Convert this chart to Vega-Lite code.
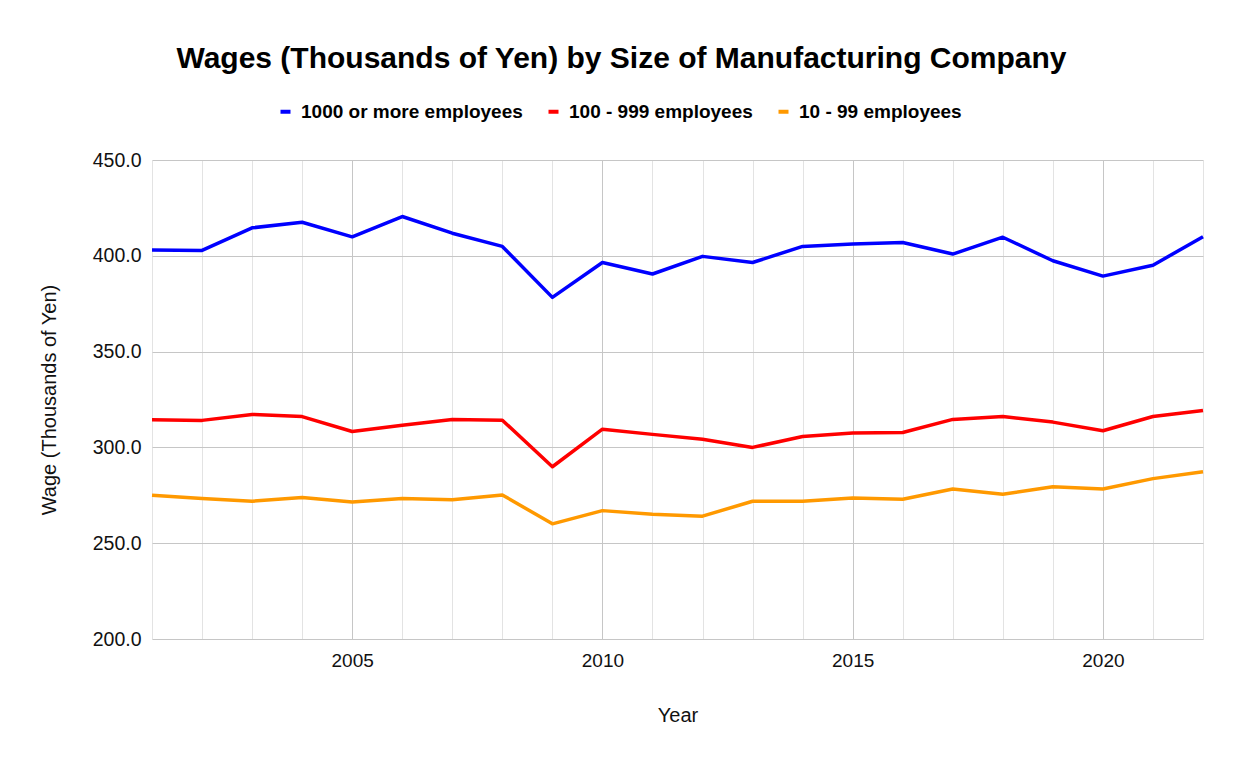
{
  "$schema": "https://vega.github.io/schema/vega-lite/v6.json",
  "autosize": {"type": "none"},
  "width": 1051,
  "height": 479,
  "padding": {"left": 152, "top": 160, "right": 39, "bottom": 126},
  "background": "white",
  "config": {"view": {"stroke": null}, "font": "Liberation Sans"},
  "title": {
    "text": "Wages (Thousands of Yen) by Size of Manufacturing Company",
    "fontSize": 30,
    "fontWeight": "bold",
    "color": "#000000",
    "anchor": "middle",
    "dx": -56,
    "offset": 28
  },
  "data": {
    "values": [
      {"year": 2001, "series": "1000 or more employees", "wage": 403.0},
      {"year": 2002, "series": "1000 or more employees", "wage": 402.8},
      {"year": 2003, "series": "1000 or more employees", "wage": 414.6},
      {"year": 2004, "series": "1000 or more employees", "wage": 417.5},
      {"year": 2005, "series": "1000 or more employees", "wage": 409.9},
      {"year": 2006, "series": "1000 or more employees", "wage": 420.5},
      {"year": 2007, "series": "1000 or more employees", "wage": 411.8},
      {"year": 2008, "series": "1000 or more employees", "wage": 404.9},
      {"year": 2009, "series": "1000 or more employees", "wage": 378.3},
      {"year": 2010, "series": "1000 or more employees", "wage": 396.5},
      {"year": 2011, "series": "1000 or more employees", "wage": 390.5},
      {"year": 2012, "series": "1000 or more employees", "wage": 399.7},
      {"year": 2013, "series": "1000 or more employees", "wage": 396.5},
      {"year": 2014, "series": "1000 or more employees", "wage": 404.9},
      {"year": 2015, "series": "1000 or more employees", "wage": 406.1},
      {"year": 2016, "series": "1000 or more employees", "wage": 406.9},
      {"year": 2017, "series": "1000 or more employees", "wage": 400.9},
      {"year": 2018, "series": "1000 or more employees", "wage": 409.7},
      {"year": 2019, "series": "1000 or more employees", "wage": 397.4},
      {"year": 2020, "series": "1000 or more employees", "wage": 389.4},
      {"year": 2021, "series": "1000 or more employees", "wage": 395.1},
      {"year": 2022, "series": "1000 or more employees", "wage": 409.9},
      {"year": 2001, "series": "100 - 999 employees", "wage": 314.4},
      {"year": 2002, "series": "100 - 999 employees", "wage": 314.1},
      {"year": 2003, "series": "100 - 999 employees", "wage": 317.2},
      {"year": 2004, "series": "100 - 999 employees", "wage": 316.1},
      {"year": 2005, "series": "100 - 999 employees", "wage": 308.3},
      {"year": 2006, "series": "100 - 999 employees", "wage": 311.6},
      {"year": 2007, "series": "100 - 999 employees", "wage": 314.6},
      {"year": 2008, "series": "100 - 999 employees", "wage": 314.2},
      {"year": 2009, "series": "100 - 999 employees", "wage": 289.9},
      {"year": 2010, "series": "100 - 999 employees", "wage": 309.5},
      {"year": 2011, "series": "100 - 999 employees", "wage": 306.8},
      {"year": 2012, "series": "100 - 999 employees", "wage": 304.3},
      {"year": 2013, "series": "100 - 999 employees", "wage": 300.0},
      {"year": 2014, "series": "100 - 999 employees", "wage": 305.7},
      {"year": 2015, "series": "100 - 999 employees", "wage": 307.5},
      {"year": 2016, "series": "100 - 999 employees", "wage": 307.8},
      {"year": 2017, "series": "100 - 999 employees", "wage": 314.6},
      {"year": 2018, "series": "100 - 999 employees", "wage": 316.1},
      {"year": 2019, "series": "100 - 999 employees", "wage": 313.2},
      {"year": 2020, "series": "100 - 999 employees", "wage": 308.7},
      {"year": 2021, "series": "100 - 999 employees", "wage": 316.1},
      {"year": 2022, "series": "100 - 999 employees", "wage": 319.3},
      {"year": 2001, "series": "10 - 99 employees", "wage": 275.0},
      {"year": 2002, "series": "10 - 99 employees", "wage": 273.3},
      {"year": 2003, "series": "10 - 99 employees", "wage": 271.9},
      {"year": 2004, "series": "10 - 99 employees", "wage": 273.8},
      {"year": 2005, "series": "10 - 99 employees", "wage": 271.5},
      {"year": 2006, "series": "10 - 99 employees", "wage": 273.3},
      {"year": 2007, "series": "10 - 99 employees", "wage": 272.7},
      {"year": 2008, "series": "10 - 99 employees", "wage": 275.2},
      {"year": 2009, "series": "10 - 99 employees", "wage": 260.1},
      {"year": 2010, "series": "10 - 99 employees", "wage": 267.0},
      {"year": 2011, "series": "10 - 99 employees", "wage": 265.1},
      {"year": 2012, "series": "10 - 99 employees", "wage": 264.1},
      {"year": 2013, "series": "10 - 99 employees", "wage": 271.9},
      {"year": 2014, "series": "10 - 99 employees", "wage": 271.9},
      {"year": 2015, "series": "10 - 99 employees", "wage": 273.6},
      {"year": 2016, "series": "10 - 99 employees", "wage": 272.9},
      {"year": 2017, "series": "10 - 99 employees", "wage": 278.3},
      {"year": 2018, "series": "10 - 99 employees", "wage": 275.5},
      {"year": 2019, "series": "10 - 99 employees", "wage": 279.5},
      {"year": 2020, "series": "10 - 99 employees", "wage": 278.3},
      {"year": 2021, "series": "10 - 99 employees", "wage": 283.7},
      {"year": 2022, "series": "10 - 99 employees", "wage": 287.3}
    ]
  },
  "mark": {"type": "line", "strokeWidth": 3.5, "strokeJoin": "round"},
  "encoding": {
    "x": {
      "field": "year",
      "type": "quantitative",
      "scale": {"domain": [2001, 2022], "nice": false, "zero": false},
      "axis": {
        "values": [2001, 2002, 2003, 2004, 2005, 2006, 2007, 2008, 2009, 2010, 2011, 2012, 2013, 2014, 2015, 2016, 2017, 2018, 2019, 2020, 2021, 2022],
        "labelExpr": "datum.value % 5 === 0 ? datum.value : ''",
        "format": "d",
        "labelFontSize": 19,
        "labelColor": "#111111",
        "labelPadding": 12,
        "domain": false,
        "ticks": false,
        "gridColor": {"condition": {"test": "datum.value % 5 === 0", "value": "#c6c6c6"}, "value": "#e3e3e3"},
        "gridWidth": 1,
        "title": "Year",
        "titleFontSize": 20,
        "titleFontWeight": "normal",
        "titleColor": "#111111",
        "titlePadding": 35
      }
    },
    "y": {
      "field": "wage",
      "type": "quantitative",
      "scale": {"domain": [200, 450], "nice": false, "zero": false},
      "axis": {
        "values": [200, 250, 300, 350, 400, 450],
        "format": ".1f",
        "labelFontSize": 19.5,
        "labelColor": "#111111",
        "labelPadding": 11,
        "domain": false,
        "ticks": false,
        "gridColor": "#c6c6c6",
        "title": "Wage (Thousands of Yen)",
        "titleFontSize": 20,
        "titleFontWeight": "normal",
        "titleColor": "#111111",
        "titlePadding": 33
      }
    },
    "color": {
      "field": "series",
      "type": "nominal",
      "scale": {
        "domain": ["1000 or more employees", "100 - 999 employees", "10 - 99 employees"],
        "range": ["#0000ff", "#ff0000", "#ff9900"]
      },
      "legend": {
        "orient": "none",
        "legendX": 124,
        "legendY": -58,
        "direction": "horizontal",
        "title": null,
        "labelFontSize": 19,
        "labelFontWeight": "bold",
        "labelColor": "#000000",
        "labelLimit": 0,
        "symbolType": "stroke",
        "symbolStrokeWidth": 4,
        "symbolSize": 100,
        "labelOffset": 6,
        "columnPadding": 17,
        "padding": 0
      }
    }
  }
}
